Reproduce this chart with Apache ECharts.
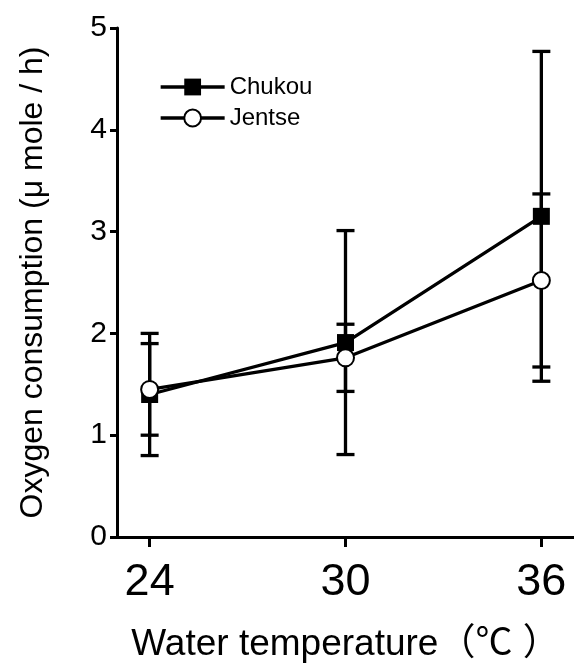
<!DOCTYPE html>
<html>
<head>
<meta charset="utf-8">
<script src="https://cdn.jsdelivr.net/npm/echarts@6/dist/echarts.min.js"></script>
<style>
  html, body { margin: 0; padding: 0; background: #fff; }
  #chart { width: 574px; height: 663px; }
</style>
</head>
<body>
<div id="chart"></div>
<script>
// values
var temps = [24, 30, 36];
var yTicks = [0, 1, 2, 3, 4, 5];

var chukou = [1.40, 1.91, 3.15];
var chukouLow = [0.80, 0.81, 1.53];
var chukouHigh = [2.00, 3.01, 4.77];

var jentse = [1.45, 1.76, 2.52];
var jentseLow = [1.00, 1.43, 1.67];
var jentseHigh = [1.90, 2.09, 3.37];

var font = '"Liberation Sans", Arial, "Noto Sans CJK JP", sans-serif';

function pairs(means) {
    return temps.map(function (t, i) { return [t, means[i]]; });
}
function bars(lows, highs) {
    return temps.map(function (t, i) { return [t, lows[i], highs[i]]; });
}

function renderErrorBar(params, api) {
    var x = api.value(0);
    var lo = api.coord([x, api.value(1)]);
    var hi = api.coord([x, api.value(2)]);
    var half = 9;
    var style = { stroke: '#000', lineWidth: 3.3, fill: null };
    return {
        type: 'group',
        children: [
            { type: 'line', shape: { x1: lo[0], y1: lo[1], x2: hi[0], y2: hi[1] }, style: style },
            { type: 'line', shape: { x1: lo[0] - half, y1: lo[1], x2: lo[0] + half, y2: lo[1] }, style: style },
            { type: 'line', shape: { x1: hi[0] - half, y1: hi[1], x2: hi[0] + half, y2: hi[1] }, style: style }
        ]
    };
}

var mychart = echarts.init(document.getElementById('chart'));

var option = {
    animation: false,
    backgroundColor: '#fff',
    textStyle: { fontFamily: font, color: '#000' },
    grid: { left: 117, right: 0, top: 28, bottom: 126, containLabel: false, outerBoundsMode: 'none' },
    legend: {
        data: ['Chukou', 'Jentse'],
        orient: 'vertical',
        left: 154,
        top: 70,
        itemWidth: 64,
        itemHeight: 21,
        itemGap: 7,
        lineStyle: { width: 3.3 },
        textStyle: { fontSize: 24, color: '#000', fontFamily: font }
    },
    xAxis: {
        type: 'value',
        min: 23,
        max: 37,
        name: 'Water temperature（℃ ）',
        nameLocation: 'middle',
        nameGap: 89,
        nameTextStyle: { fontSize: 37, color: '#000', fontFamily: font },
        axisLine: { lineStyle: { color: '#000', width: 3 } },
        axisTick: { customValues: temps, length: 10, lineStyle: { color: '#000', width: 3 } },
        axisLabel: { customValues: temps, fontSize: 45, color: '#000', margin: 23 },
        splitLine: { show: false }
    },
    yAxis: {
        type: 'value',
        min: 0,
        max: 5,
        interval: 1,
        name: 'Oxygen consumption (μ mole / h)',
        nameLocation: 'middle',
        nameGap: 68,
        nameTextStyle: { fontSize: 32, color: '#000', fontFamily: font },
        axisLine: { show: true, lineStyle: { color: '#000', width: 3 } },
        axisTick: { show: true, length: 7, lineStyle: { color: '#000', width: 3 } },
        axisLabel: {
            fontSize: 30, color: '#000', margin: 10,
            formatter: function (v) { return yTicks.indexOf(v) > -1 ? String(v) : ''; }
        },
        splitLine: { show: false }
    },
    series: [
        {
            name: 'Chukou error',
            type: 'custom',
            renderItem: renderErrorBar,
            encode: { x: 0, y: [1, 2] },
            data: bars(chukouLow, chukouHigh),
            z: 1
        },
        {
            name: 'Jentse error',
            type: 'custom',
            renderItem: renderErrorBar,
            encode: { x: 0, y: [1, 2] },
            data: bars(jentseLow, jentseHigh),
            z: 1
        },
        {
            name: 'Chukou',
            type: 'line',
            data: pairs(chukou),
            symbol: 'rect',
            symbolSize: 17,
            color: '#000',
            lineStyle: { color: '#000', width: 3.3 },
            itemStyle: { color: '#000' },
            z: 3
        },
        {
            name: 'Jentse',
            type: 'line',
            data: pairs(jentse),
            symbol: 'emptyCircle',
            symbolSize: 17,
            color: '#000',
            lineStyle: { color: '#000', width: 3.3 },
            itemStyle: { color: '#000', borderWidth: 2.5 },
            z: 4
        }
    ]
};
mychart.setOption(option);
</script>
</body>
</html>
